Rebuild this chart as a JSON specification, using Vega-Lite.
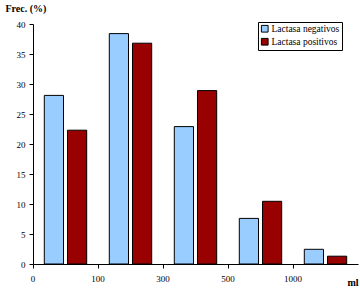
{
  "$schema": "https://vega.github.io/schema/vega-lite/v6.json",
  "width": 325,
  "height": 240,
  "autosize": {"type": "none"},
  "padding": {"left": 33, "top": 24, "right": 2, "bottom": 26},
  "background": "white",
  "data": {
    "values": [
      {"desde": "0", "grupo": "Lactasa negativos", "valor": 28.1},
      {"desde": "0", "grupo": "Lactasa positivos", "valor": 22.3},
      {"desde": "100", "grupo": "Lactasa negativos", "valor": 38.4},
      {"desde": "100", "grupo": "Lactasa positivos", "valor": 36.8},
      {"desde": "300", "grupo": "Lactasa negativos", "valor": 22.9},
      {"desde": "300", "grupo": "Lactasa positivos", "valor": 28.9},
      {"desde": "500", "grupo": "Lactasa negativos", "valor": 7.6},
      {"desde": "500", "grupo": "Lactasa positivos", "valor": 10.45},
      {"desde": "1000", "grupo": "Lactasa negativos", "valor": 2.45},
      {"desde": "1000", "grupo": "Lactasa positivos", "valor": 1.3}
    ]
  },
  "mark": {"type": "bar", "stroke": "black", "strokeWidth": 1},
  "encoding": {
    "x": {
      "field": "desde",
      "type": "ordinal",
      "sort": null,
      "scale": {"paddingInner": 0, "paddingOuter": 0},
      "axis": {
        "bandPosition": 0,
        "labelOffset": -32.5,
        "labelAngle": 0,
        "title": "ml",
        "titleFontWeight": "bold",
        "titleAlign": "right",
        "titleAnchor": null,
        "titleX": 325,
        "titleY": 18,
        "titleBaseline": "middle",
        "tickSize": 4,
        "labelPadding": 6
      }
    },
    "xOffset": {
      "field": "grupo",
      "type": "nominal",
      "scale": {"paddingInner": 0.172, "paddingOuter": 0.487}
    },
    "y": {
      "field": "valor",
      "type": "quantitative",
      "scale": {"domain": [0, 40], "nice": false},
      "axis": {
        "values": [0, 5, 10, 15, 20, 25, 30, 35, 40],
        "title": "Frec. (%)",
        "titleAngle": 0,
        "titleFontWeight": "bold",
        "titleAlign": "left",
        "titleAnchor": null,
        "titleX": -28,
        "titleY": -16,
        "titleBaseline": "middle",
        "tickSize": 4,
        "labelPadding": 4
      }
    },
    "color": {
      "field": "grupo",
      "type": "nominal",
      "scale": {
        "domain": ["Lactasa negativos", "Lactasa positivos"],
        "range": ["#99CCFF", "#990000"]
      },
      "legend": {
        "title": null,
        "orient": "none",
        "legendX": 225,
        "legendY": -2,
        "strokeColor": "black",
        "fillColor": "white",
        "padding": 2,
        "symbolType": "square",
        "symbolSize": 45,
        "symbolStrokeColor": "black",
        "symbolStrokeWidth": 1,
        "labelFont": "Liberation Serif",
        "labelFontSize": 9.5,
        "labelColor": "black",
        "rowPadding": 1,
        "labelOffset": 2
      }
    }
  },
  "config": {
    "view": {"stroke": null},
    "font": "Liberation Serif",
    "axis": {
      "grid": false,
      "domainColor": "black",
      "tickColor": "black",
      "labelColor": "black",
      "titleColor": "black",
      "labelFont": "Liberation Serif",
      "titleFont": "Liberation Serif",
      "labelFontSize": 9,
      "titleFontSize": 10
    },
    "legend": {"labelFont": "Liberation Serif"}
  }
}
